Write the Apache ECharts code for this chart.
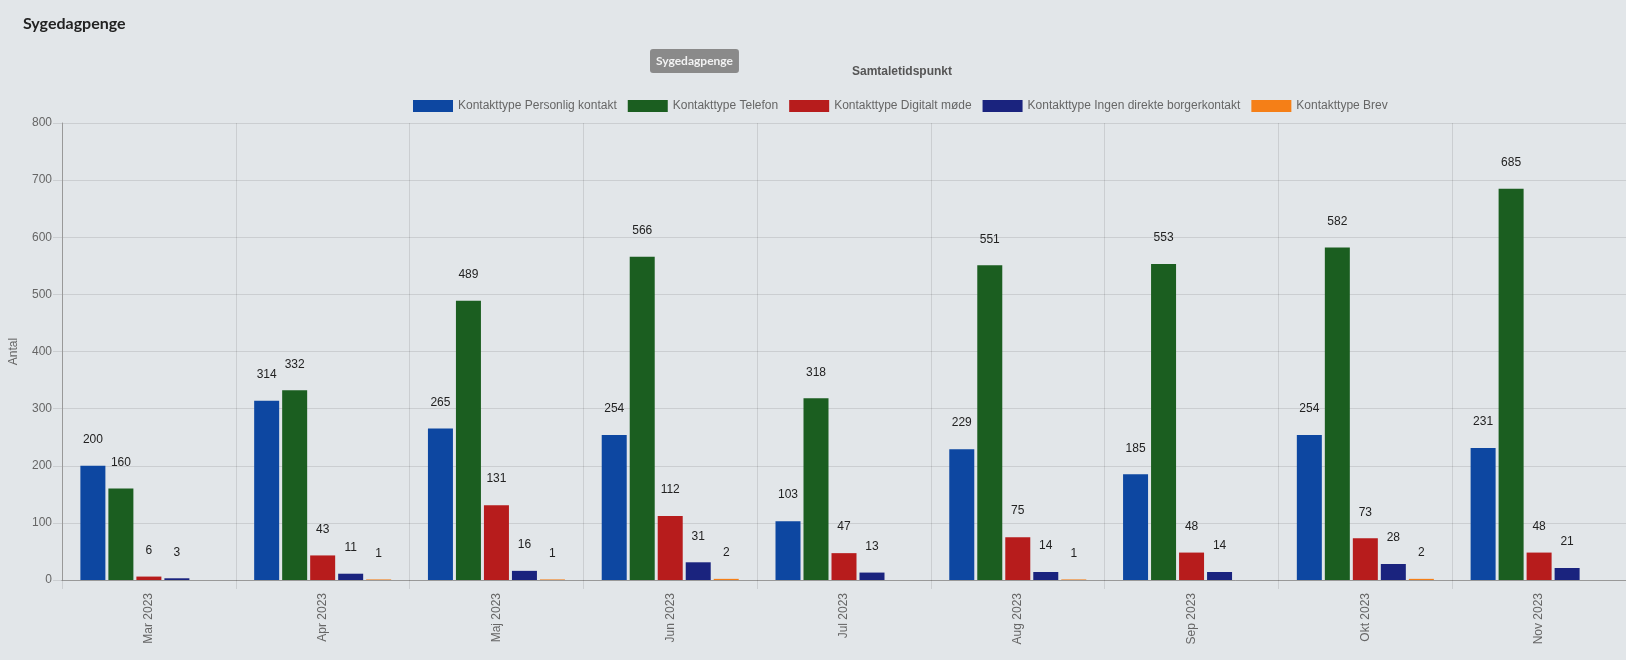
<!DOCTYPE html>
<html>
<head>
<meta charset="utf-8">
<script src="https://cdn.jsdelivr.net/npm/echarts@6/dist/echarts.min.js"></script>
<style>
  html, body { margin: 0; padding: 0; background: #e2e6e9; }
  #chart { width: 1626px; height: 660px; }
</style>
</head>
<body>
<div id="chart"></div>
<script>
// kategorier (måneder)
var maaneder = ['Mar 2023', 'Apr 2023', 'Maj 2023', 'Jun 2023', 'Jul 2023', 'Aug 2023', 'Sep 2023', 'Okt 2023', 'Nov 2023'];

// værdier pr. kontakttype
var personlig = [200, 314, 265, 254, 103, 229, 185, 254, 231];
var telefon   = [160, 332, 489, 566, 318, 551, 553, 582, 685];
var digitalt  = [6, 43, 131, 112, 47, 75, 48, 73, 48];
var ingen     = [3, 11, 16, 31, 13, 14, 14, 28, 21];
var brev      = [null, 1, 1, 2, null, 1, null, 2, null];

var yTicks = { min: 0, max: 800, interval: 100 };

var serier = [
  { navn: 'Kontakttype Personlig kontakt', data: personlig, farve: '#0d47a1' },
  { navn: 'Kontakttype Telefon', data: telefon, farve: '#1b5e20' },
  { navn: 'Kontakttype Digitalt møde', data: digitalt, farve: '#b71c1c' },
  { navn: 'Kontakttype Ingen direkte borgerkontakt', data: ingen, farve: '#1a237e' },
  { navn: 'Kontakttype Brev', data: brev, farve: '#f57f17' }
];

var gridFarve = 'rgba(0,0,0,0.1)';
var tekstFarve = '#666';
var font = '"Liberation Sans", Arial, sans-serif';

var myChart = echarts.init(document.getElementById('chart'));

var option = {
  backgroundColor: '#e2e6e9',
  textStyle: { fontFamily: font },
  title: [
    {
      text: 'Sygedagpenge',
      left: 23, top: 16,
      padding: 0,
      textStyle: { fontFamily: 'Lato, sans-serif', fontSize: 16, fontWeight: 'bold', color: '#222' }
    },
    {
      text: 'Sygedagpenge',
      left: 650, top: 49,
      backgroundColor: '#8a8a8a',
      borderRadius: 3,
      padding: [6, 6, 6, 6],
      textStyle: { fontFamily: 'Lato, sans-serif', fontSize: 12, fontWeight: 'bold', color: '#f2f2f2' }
    },
    {
      text: 'Samtaletidspunkt',
      left: 852, top: 66,
      padding: 0,
      textStyle: { fontFamily: font, fontSize: 12, fontWeight: 'bold', color: '#555' }
    }
  ],
  legend: {
    left: 413, top: 100,
    padding: 0,
    itemWidth: 40, itemHeight: 12,
    itemGap: 11,
    icon: 'rect',
    textStyle: { fontFamily: font, fontSize: 12, color: tekstFarve }
  },
  grid: { left: 57, right: 0, top: 123, bottom: 80 },
  xAxis: {
    type: 'category',
    data: maaneder,
    axisLine: { lineStyle: { color: '#999' } },
    axisTick: { show: true, length: 9, lineStyle: { color: gridFarve } },
    splitLine: { show: true, lineStyle: { color: gridFarve } },
    axisLabel: { rotate: 90, margin: 13, fontSize: 12, color: tekstFarve, fontFamily: font }
  },
  yAxis: {
    type: 'value',
    min: yTicks.min, max: yTicks.max, interval: yTicks.interval,
    name: 'Antal',
    nameLocation: 'middle',
    nameGap: 42,
    nameRotate: 90,
    nameTextStyle: { fontSize: 12, color: tekstFarve, fontFamily: font },
    axisLine: { show: true, lineStyle: { color: '#999' } },
    axisTick: { show: true, length: 9, lineStyle: { color: gridFarve } },
    splitLine: { lineStyle: { color: gridFarve } },
    axisLabel: { margin: 10, fontSize: 12, color: tekstFarve, fontFamily: font }
  },
  series: serier.map(function (s) {
    return {
      name: s.navn,
      type: 'bar',
      data: s.data,
      barWidth: 25,
      barGap: '12%',
      itemStyle: { color: s.farve },
      label: {
        show: true,
        position: 'top',
        distance: 20,
        fontSize: 12,
        color: '#222',
        fontFamily: font
      }
    };
  })
};

myChart.setOption(option);
</script>
</body>
</html>
